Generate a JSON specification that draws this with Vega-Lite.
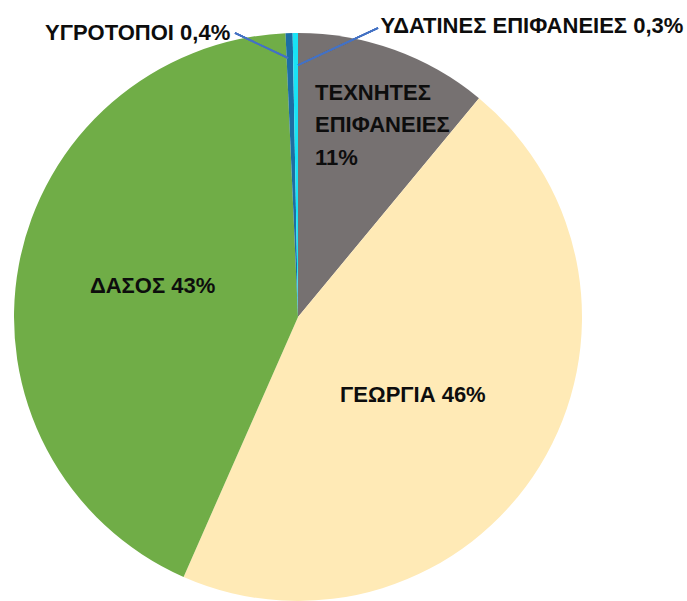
{
  "$schema": "https://vega.github.io/schema/vega-lite/v6.json",
  "width": 687,
  "height": 601,
  "padding": 0,
  "autosize": {"type": "none"},
  "background": "white",
  "config": {"view": {"stroke": null}, "text": {"font": "Liberation Sans", "fontWeight": "bold", "fontSize": 22, "color": "#0d0d0d", "baseline": "alphabetic"}},
  "data": {
    "values": [
      {"o": 1, "cat": "ΤΕΧΝΗΤΕΣ ΕΠΙΦΑΝΕΙΕΣ", "value": 11.0, "label": "ΤΕΧΝΗΤΕΣ\nΕΠΙΦΑΝΕΙΕΣ\n11%"},
      {"o": 2, "cat": "ΓΕΩΡΓΙΑ", "value": 45.6, "label": "ΓΕΩΡΓΙΑ 46%"},
      {"o": 3, "cat": "ΔΑΣΟΣ", "value": 42.7, "label": "ΔΑΣΟΣ 43%"},
      {"o": 4, "cat": "ΥΓΡΟΤΟΠΟΙ", "value": 0.4, "label": "ΥΓΡΟΤΟΠΟΙ 0,4%"},
      {"o": 5, "cat": "ΥΔΑΤΙΝΕΣ ΕΠΙΦΑΝΕΙΕΣ", "value": 0.3, "label": "ΥΔΑΤΙΝΕΣ ΕΠΙΦΑΝΕΙΕΣ 0,3%"}
    ]
  },
  "transform": [
    {"stack": "value", "groupby": [], "sort": [{"field": "o", "order": "ascending"}], "as": ["t0", "t1"]},
    {"calculate": "(datum.t0 + datum.t1) / 2", "as": "tm"}
  ],
  "layer": [
    {
      "mark": {"type": "arc", "outerRadius": 284},
      "encoding": {
        "theta": {"field": "t0", "type": "quantitative", "scale": {"domain": [0, 100]}},
        "theta2": {"field": "t1"},
        "x": {"datum": 0, "type": "quantitative", "scale": {"domain": [-1.0493, 1.36972], "zero": false, "nice": false}, "axis": null},
        "y": {"datum": 0, "type": "quantitative", "scale": {"domain": [-1.0, 1.1162], "zero": false, "nice": false}, "axis": null},
        "color": {
          "field": "cat", "type": "nominal", "legend": null,
          "scale": {
            "domain": ["ΤΕΧΝΗΤΕΣ ΕΠΙΦΑΝΕΙΕΣ", "ΓΕΩΡΓΙΑ", "ΔΑΣΟΣ", "ΥΓΡΟΤΟΠΟΙ", "ΥΔΑΤΙΝΕΣ ΕΠΙΦΑΝΕΙΕΣ"],
            "range": ["#767171", "#FFEAB6", "#70AD47", "#1C6EA4", "#19E3F5"]
          }
        }
      }
    },
    {
      "mark": {"type": "rule", "color": "#4472C4", "strokeWidth": 1.5},
      "encoding": {
        "x": {"datum": -0.2218, "type": "quantitative"},
        "y": {"datum": 1.0, "type": "quantitative"},
        "x2": {"datum": -0.0352},
        "y2": {"datum": 0.912}
      }
    },
    {
      "mark": {"type": "rule", "color": "#4472C4", "strokeWidth": 1.5},
      "encoding": {
        "x": {"datum": 0.2817, "type": "quantitative"},
        "y": {"datum": 1.0176, "type": "quantitative"},
        "x2": {"datum": 0.0},
        "y2": {"datum": 0.887}
      }
    },
    {
      "transform": [{"filter": "datum.o == 1"}],
      "mark": {"type": "text", "align": "left", "lineBreak": "\n", "lineHeight": 32.5, "radius": 200, "dx": -50.7, "dy": -29.3},
      "encoding": {
        "theta": {"field": "tm", "type": "quantitative"},
        "x": {"datum": 0, "type": "quantitative"},
        "y": {"datum": 0, "type": "quantitative"},
        "text": {"field": "label"}
      }
    },
    {
      "transform": [{"filter": "datum.o == 2"}],
      "mark": {"type": "text", "align": "center", "radius": 135, "dx": 0, "dy": 14},
      "encoding": {
        "theta": {"field": "tm", "type": "quantitative"},
        "x": {"datum": 0, "type": "quantitative"},
        "y": {"datum": 0, "type": "quantitative"},
        "text": {"field": "label"}
      }
    },
    {
      "transform": [{"filter": "datum.o == 3"}],
      "mark": {"type": "text", "align": "center", "radius": 150, "dx": 2, "dy": 3.6},
      "encoding": {
        "theta": {"field": "tm", "type": "quantitative"},
        "x": {"datum": 0, "type": "quantitative"},
        "y": {"datum": 0, "type": "quantitative"},
        "text": {"field": "label"}
      }
    },
    {
      "transform": [{"filter": "datum.o == 4"}],
      "mark": {"type": "text", "align": "right", "radius": 280, "dx": -59, "dy": 3},
      "encoding": {
        "theta": {"field": "tm", "type": "quantitative"},
        "x": {"datum": 0, "type": "quantitative"},
        "y": {"datum": 0, "type": "quantitative"},
        "text": {"field": "label"}
      }
    },
    {
      "transform": [{"filter": "datum.o == 5"}],
      "mark": {"type": "text", "align": "right", "radius": 285, "dx": 388, "dy": 1},
      "encoding": {
        "theta": {"field": "tm", "type": "quantitative"},
        "x": {"datum": 0, "type": "quantitative"},
        "y": {"datum": 0, "type": "quantitative"},
        "text": {"field": "label"}
      }
    }
  ]
}
